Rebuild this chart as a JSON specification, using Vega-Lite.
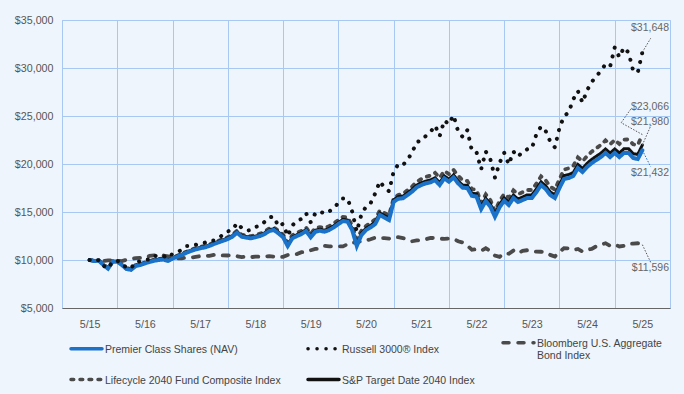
{
  "$schema": "https://vega.github.io/schema/vega-lite/v6.json",
  "width": 608,
  "height": 288,
  "autosize": {"type": "none"},
  "padding": {"left": 62, "top": 20, "right": 14, "bottom": 86},
  "background": "#eff5fc",
  "config": {
    "view": {"stroke": "#a6c8f2", "strokeWidth": 1},
    "font": "Liberation Sans",
    "axis": {"labelFont": "Liberation Sans", "labelFontSize": 10.7, "labelColor": "#555555", "gridColor": "#a6c8f2", "gridOpacity": 1, "gridWidth": 1, "ticks": false},
    "legend": {"labelFont": "Liberation Sans"}
  },
  "layer": [
    {
      "data": {"values": [
        {"m":0,"p":10000,"s":10000,"l":10000,"r":10000,"b":10000},
        {"m":1,"p":9900,"s":9930,"l":9920,"r":9830,"b":9890},
        {"m":2,"p":9930,"s":9960,"l":9960,"r":10000,"b":9960},
        {"m":3,"p":9480,"s":9520,"l":9520,"r":9400,"b":9900},
        {"m":4,"p":9100,"s":9160,"l":9170,"r":9130,"b":9970},
        {"m":5,"p":9830,"s":9860,"l":9880,"r":9850,"b":9970},
        {"m":6,"p":9830,"s":9880,"l":9900,"r":9910,"b":9940},
        {"m":7,"p":9480,"s":9520,"l":9540,"r":9700,"b":9890},
        {"m":8,"p":9060,"s":9130,"l":9150,"r":9160,"b":10030},
        {"m":9,"p":8980,"s":9060,"l":9080,"r":9160,"b":10100},
        {"m":10,"p":9370,"s":9450,"l":9470,"r":9800,"b":10190},
        {"m":11,"p":9480,"s":9560,"l":9580,"r":9860,"b":10230},
        {"m":12,"p":9650,"s":9720,"l":9740,"r":10030,"b":10240},
        {"m":13,"p":9800,"s":9850,"l":9880,"r":10050,"b":10420},
        {"m":14,"p":9930,"s":10000,"l":10040,"r":10420,"b":10490},
        {"m":15,"p":10000,"s":10080,"l":10110,"r":10440,"b":10480},
        {"m":16,"p":10050,"s":10120,"l":10150,"r":10430,"b":10470},
        {"m":17,"p":9900,"s":9960,"l":9990,"r":10200,"b":10390},
        {"m":18,"p":10140,"s":10200,"l":10230,"r":10650,"b":10150},
        {"m":19,"p":10350,"s":10420,"l":10450,"r":10850,"b":10160},
        {"m":20,"p":10520,"s":10590,"l":10630,"r":11040,"b":10180},
        {"m":21,"p":10760,"s":10830,"l":10870,"r":11450,"b":10250},
        {"m":22,"p":10940,"s":11010,"l":11060,"r":11460,"b":10250},
        {"m":23,"p":11110,"s":11180,"l":11240,"r":11580,"b":10330},
        {"m":24,"p":11220,"s":11300,"l":11360,"r":11700,"b":10410},
        {"m":25,"p":11320,"s":11400,"l":11470,"r":11800,"b":10400},
        {"m":26,"p":11460,"s":11550,"l":11620,"r":12020,"b":10440},
        {"m":27,"p":11670,"s":11760,"l":11830,"r":12040,"b":10530},
        {"m":28,"p":11840,"s":11930,"l":12010,"r":12340,"b":10480},
        {"m":29,"p":12010,"s":12110,"l":12190,"r":12610,"b":10480},
        {"m":30,"p":12190,"s":12290,"l":12380,"r":12990,"b":10470},
        {"m":31,"p":12430,"s":12530,"l":12630,"r":13120,"b":10520},
        {"m":32,"p":12850,"s":12960,"l":13060,"r":13850,"b":10400},
        {"m":33,"p":12430,"s":12540,"l":12640,"r":13340,"b":10300},
        {"m":34,"p":12330,"s":12440,"l":12550,"r":13060,"b":10370},
        {"m":35,"p":12260,"s":12370,"l":12480,"r":13110,"b":10290},
        {"m":36,"p":12370,"s":12480,"l":12600,"r":13450,"b":10360},
        {"m":37,"p":12500,"s":12610,"l":12740,"r":13540,"b":10350},
        {"m":38,"p":12710,"s":12830,"l":12960,"r":13980,"b":10350},
        {"m":39,"p":13020,"s":13140,"l":13280,"r":14440,"b":10410},
        {"m":40,"p":13120,"s":13250,"l":13390,"r":14520,"b":10350},
        {"m":41,"p":12780,"s":12900,"l":13040,"r":13500,"b":10270},
        {"m":42,"p":12370,"s":12490,"l":12640,"r":13770,"b":10330},
        {"m":43,"p":11460,"s":11580,"l":11780,"r":12490,"b":10520},
        {"m":44,"p":12260,"s":12390,"l":12580,"r":13600,"b":10630},
        {"m":45,"p":12500,"s":12640,"l":12830,"r":14060,"b":10620},
        {"m":46,"p":12710,"s":12850,"l":13050,"r":14290,"b":10820},
        {"m":47,"p":13020,"s":13170,"l":13370,"r":14860,"b":10820},
        {"m":48,"p":12370,"s":12510,"l":12740,"r":13930,"b":11010},
        {"m":49,"p":12950,"s":13100,"l":13330,"r":14870,"b":11150},
        {"m":50,"p":13050,"s":13200,"l":13430,"r":15080,"b":11180},
        {"m":51,"p":12950,"s":13100,"l":13350,"r":14810,"b":11470},
        {"m":52,"p":13120,"s":13280,"l":13520,"r":15060,"b":11410},
        {"m":53,"p":13400,"s":13560,"l":13810,"r":15380,"b":11440},
        {"m":54,"p":13750,"s":13910,"l":14170,"r":15950,"b":11430},
        {"m":55,"p":14060,"s":14230,"l":14490,"r":16400,"b":11420},
        {"m":56,"p":13990,"s":14160,"l":14430,"r":16390,"b":11640},
        {"m":57,"p":13120,"s":13280,"l":13600,"r":15040,"b":11850},
        {"m":58,"p":11460,"s":11650,"l":12150,"r":12970,"b":11780},
        {"m":59,"p":12600,"s":12800,"l":13050,"r":14740,"b":11990},
        {"m":60,"p":13120,"s":13310,"l":13550,"r":15560,"b":12040},
        {"m":61,"p":13400,"s":13600,"l":13850,"r":15910,"b":12160},
        {"m":62,"p":13750,"s":13960,"l":14230,"r":16950,"b":12330},
        {"m":63,"p":14690,"s":14890,"l":15160,"r":18190,"b":12290},
        {"m":64,"p":14420,"s":14630,"l":14900,"r":17540,"b":12280},
        {"m":65,"p":14170,"s":14380,"l":14660,"r":17160,"b":12230},
        {"m":66,"p":16060,"s":16270,"l":16420,"r":19220,"b":12380},
        {"m":67,"p":16380,"s":16600,"l":16780,"r":19960,"b":12380},
        {"m":68,"p":16430,"s":16650,"l":16880,"r":19880,"b":12290},
        {"m":69,"p":16770,"s":16990,"l":17280,"r":20440,"b":12110},
        {"m":70,"p":17120,"s":17350,"l":17650,"r":21180,"b":11950},
        {"m":71,"p":17570,"s":17800,"l":18150,"r":22300,"b":12040},
        {"m":72,"p":17810,"s":18040,"l":18430,"r":22410,"b":12080},
        {"m":73,"p":17990,"s":18220,"l":18650,"r":22930,"b":12160},
        {"m":74,"p":18090,"s":18330,"l":18800,"r":23330,"b":12300},
        {"m":75,"p":18330,"s":18570,"l":19070,"r":24000,"b":12280},
        {"m":76,"p":17810,"s":18060,"l":18560,"r":22910,"b":12220},
        {"m":77,"p":18510,"s":18760,"l":19280,"r":24530,"b":12210},
        {"m":78,"p":18160,"s":18410,"l":18960,"r":24160,"b":12240},
        {"m":79,"p":18610,"s":18870,"l":19390,"r":25070,"b":12210},
        {"m":80,"p":17990,"s":18250,"l":18780,"r":23400,"b":11950},
        {"m":81,"p":17530,"s":17790,"l":18300,"r":22810,"b":11820},
        {"m":82,"p":17500,"s":17770,"l":18240,"r":23530,"b":11500},
        {"m":83,"p":16680,"s":16950,"l":17380,"r":21370,"b":11060},
        {"m":84,"p":16600,"s":16880,"l":17300,"r":21230,"b":11130},
        {"m":85,"p":15300,"s":15580,"l":15950,"r":19450,"b":10960},
        {"m":86,"p":16150,"s":16430,"l":16830,"r":21300,"b":11220},
        {"m":87,"p":15560,"s":15840,"l":16240,"r":20490,"b":10940},
        {"m":88,"p":14500,"s":14790,"l":15100,"r":18580,"b":10460},
        {"m":89,"p":15500,"s":15790,"l":16150,"r":20110,"b":10320},
        {"m":90,"p":16170,"s":16470,"l":16870,"r":21170,"b":10700},
        {"m":91,"p":15730,"s":16030,"l":16500,"r":19950,"b":10650},
        {"m":92,"p":16460,"s":16770,"l":17250,"r":21300,"b":10980},
        {"m":93,"p":16040,"s":16350,"l":16850,"r":20750,"b":10700},
        {"m":94,"p":16250,"s":16560,"l":17060,"r":21300,"b":10960},
        {"m":95,"p":16460,"s":16780,"l":17290,"r":21530,"b":11020},
        {"m":96,"p":16460,"s":16780,"l":17290,"r":21620,"b":10910},
        {"m":97,"p":17080,"s":17400,"l":17950,"r":23110,"b":10870},
        {"m":98,"p":17810,"s":18140,"l":18720,"r":23910,"b":10860},
        {"m":99,"p":17400,"s":17730,"l":18300,"r":23450,"b":10800},
        {"m":100,"p":16770,"s":17100,"l":17650,"r":22340,"b":10530},
        {"m":101,"p":16460,"s":16790,"l":17330,"r":21740,"b":10360},
        {"m":102,"p":17500,"s":17840,"l":18420,"r":23750,"b":10830},
        {"m":103,"p":18440,"s":18790,"l":19420,"r":24990,"b":11240},
        {"m":104,"p":18540,"s":18890,"l":19550,"r":25380,"b":11210},
        {"m":105,"p":18750,"s":19110,"l":19800,"r":26740,"b":11050},
        {"m":106,"p":19580,"s":19950,"l":20680,"r":27600,"b":11150},
        {"m":107,"p":19170,"s":19540,"l":20270,"r":26400,"b":10870},
        {"m":108,"p":19690,"s":20070,"l":20830,"r":27670,"b":11060},
        {"m":109,"p":20100,"s":20480,"l":21280,"r":28560,"b":11160},
        {"m":110,"p":20420,"s":20810,"l":21640,"r":29100,"b":11430},
        {"m":111,"p":20730,"s":21130,"l":21990,"r":29750,"b":11600},
        {"m":112,"p":21150,"s":21560,"l":22460,"r":30380,"b":11750},
        {"m":113,"p":20730,"s":21140,"l":22050,"r":30160,"b":11470},
        {"m":114,"p":21150,"s":21570,"l":22500,"r":32150,"b":11600},
        {"m":115,"p":20730,"s":21150,"l":22090,"r":31130,"b":11410},
        {"m":116,"p":21150,"s":21580,"l":22540,"r":32130,"b":11470},
        {"m":117,"p":21150,"s":21590,"l":22560,"r":31600,"b":11700},
        {"m":118,"p":20630,"s":21080,"l":22050,"r":29730,"b":11700},
        {"m":119,"p":20520,"s":20990,"l":21960,"r":29520,"b":11740},
        {"m":120,"p":21432,"s":21980,"l":23066,"r":31648,"b":11596}
      ]},
      "transform": [{"fold": ["b", "l", "s", "p", "r"], "as": ["key", "value"]}],
      "encoding": {
        "x": {"field": "m", "type": "quantitative", "title": null,
          "scale": {"domain": [-6, 126], "nice": false, "zero": false},
          "axis": {"values": [-6, 6, 18, 30, 42, 54, 66, 78, 90, 102, 114], "grid": true, "labelExpr": "'5/' + (15 + (datum.value + 6) / 12)", "labelOffset": 27.6, "labelFlush": false, "labelPadding": 11, "domain": true, "domainColor": "#666666", "domainWidth": 1}},
        "y": {"field": "value", "type": "quantitative", "title": null,
          "scale": {"domain": [5000, 35000], "nice": false, "zero": false},
          "axis": {"values": [5000, 10000, 15000, 20000, 25000, 30000, 35000], "format": "$,.0f", "grid": true, "domain": false, "labelPadding": 9}},
        "color": {"field": "key", "type": "nominal",
          "scale": {"domain": ["p", "r", "b", "l", "s"], "range": ["#1a72c9", "#111111", "#4a4a4a", "#4a4a4a", "#111111"]},
          "legend": {"title": null, "orient": "none", "legendX": 7, "legendY": 305, "columns": 3, "direction": "horizontal", "columnPadding": 20, "rowPadding": 0, "padding": 0,
            "symbolType": "stroke", "symbolSize": 961, "symbolStrokeWidth": 3.5, "labelFontSize": 10.5, "labelColor": "#444444", "labelOffset": 1, "labelLimit": 300, "labelBaseline": "alphabetic",
            "labelExpr": "datum.value == 'p' ? 'Premier Class Shares (NAV)' : datum.value == 'r' ? 'Russell 3000® Index' : datum.value == 'b' ? ['Bloomberg U.S. Aggregate', 'Bond Index'] : datum.value == 'l' ? 'Lifecycle 2040 Fund Composite Index' : 'S&P Target Date 2040 Index'",
            "encoding": {"symbols": {"strokeCap": {"value": "round"}}, "labels": {"dy": {"value": 4}}}}},
        "strokeDash": {"field": "key", "type": "nominal",
          "scale": {"domain": ["p", "r", "b", "l", "s"], "range": [[1, 0], [0.1, 8.9], [6, 9], [2.7, 6.3], [1, 0]]}}
      },
      "layer": [
        {"transform": [{"filter": "datum.key == 'b'"}], "mark": {"type": "line", "strokeWidth": 3.8, "strokeCap": "round"}},
        {"transform": [{"filter": "datum.key == 'l'"}], "mark": {"type": "line", "strokeWidth": 3.8, "strokeCap": "round"}},
        {"transform": [{"filter": "datum.key == 's'"}], "mark": {"type": "line", "strokeWidth": 3, "strokeCap": "round"}},
        {"transform": [{"filter": "datum.key == 'p'"}], "mark": {"type": "line", "strokeWidth": 4, "strokeCap": "round"}},
        {"transform": [{"filter": "datum.key == 'r'"}], "mark": {"type": "line", "strokeWidth": 4, "strokeCap": "round"}}
      ]
    },
    {
      "data": {"values": [
        {"series": "r", "x1": 120, "y1": 31648, "x2": 121.8, "y2": 33090},
        {"series": "l", "x1": 120, "y1": 23066, "x2": 115.4, "y2": 24300},
        {"series": "l", "x1": 115.4, "y1": 24300, "x2": 117.5, "y2": 25730},
        {"series": "s", "x1": 120, "y1": 21980, "x2": 121.9, "y2": 24060},
        {"series": "p", "x1": 120, "y1": 21432, "x2": 121.8, "y2": 19720},
        {"series": "b", "x1": 120, "y1": 11596, "x2": 121.9, "y2": 9660}
      ]},
      "mark": {"type": "rule", "strokeWidth": 1, "strokeDash": [1.5, 1.5]},
      "encoding": {
        "x": {"field": "x1", "type": "quantitative", "title": null},
        "x2": {"field": "x2"},
        "y": {"field": "y1", "type": "quantitative", "title": null},
        "y2": {"field": "y2"},
        "stroke": {"condition": {"test": "datum.series == 'p'", "value": "#1a72c9"}, "value": "#555555"}
      }
    },
    {
      "data": {"values": [
        {"label": "$31,648", "pos": 34198},
        {"label": "$23,066", "pos": 25906},
        {"label": "$21,980", "pos": 24343},
        {"label": "$21,432", "pos": 19030},
        {"label": "$11,596", "pos": 9134}
      ]},
      "mark": {"type": "text", "align": "right", "baseline": "middle", "dx": -1, "fontSize": 10.5, "color": "#666666", "font": "Liberation Sans"},
      "encoding": {
        "x": {"datum": 126, "type": "quantitative"},
        "y": {"field": "pos", "type": "quantitative", "title": null},
        "text": {"field": "label"}
      }
    }
  ]
}
